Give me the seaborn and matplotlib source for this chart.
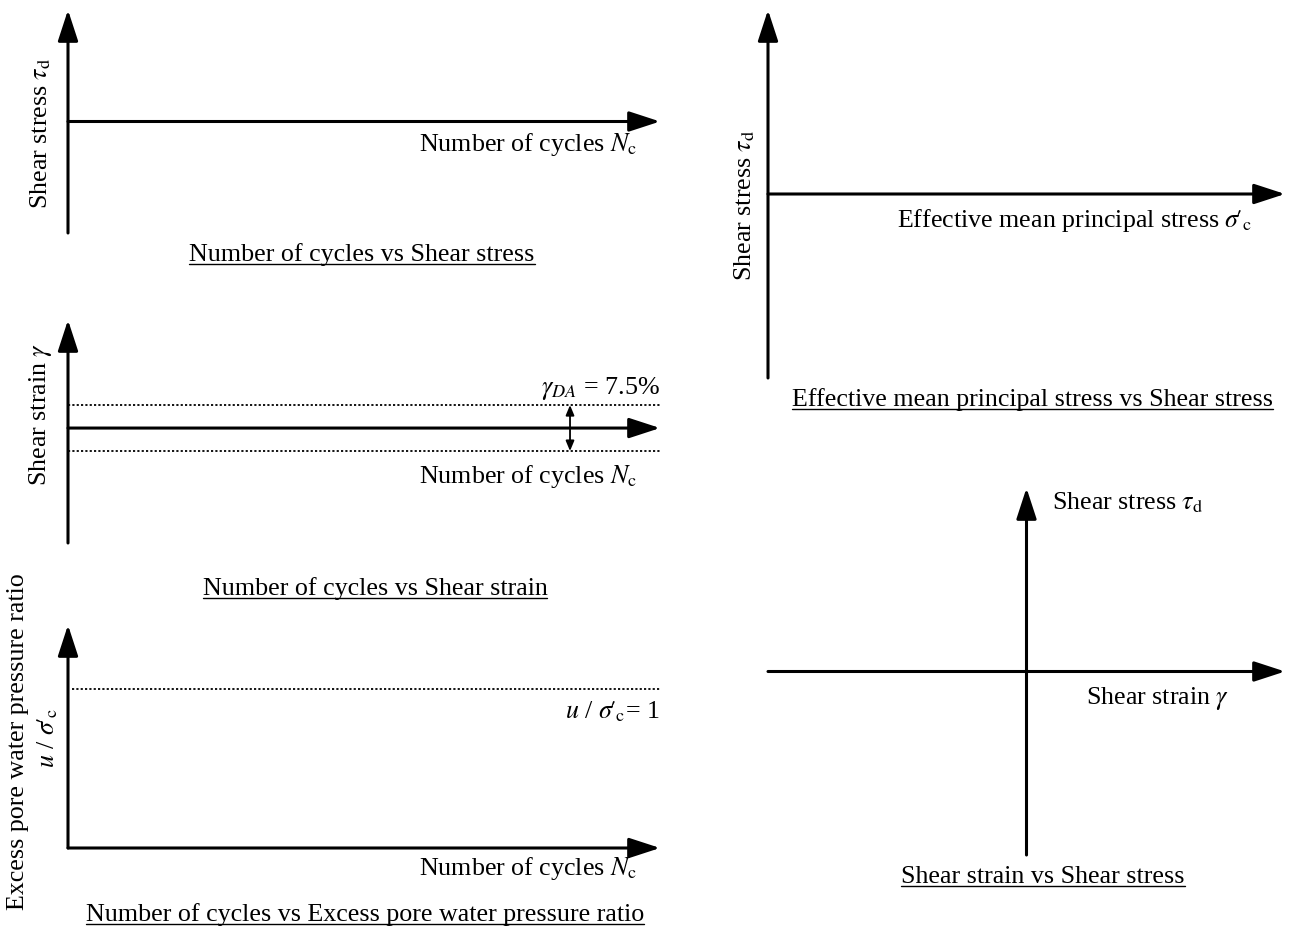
import numpy as np
import matplotlib.pyplot as plt
from matplotlib.lines import Line2D
import seaborn as sns

sns.set_theme(style="white")
plt.rcParams['font.family'] = ['Liberation Serif', 'DejaVu Serif']
plt.rcParams['mathtext.fontset'] = 'stix'
plt.rcParams['text.color'] = 'black'

# --- content of the schematic ---
panel_titles = [
    "Number of cycles vs Shear stress",
    "Number of cycles vs Shear strain",
    "Number of cycles vs Excess pore water pressure ratio",
    "Effective mean principal stress vs Shear stress",
    "Shear strain vs Shear stress",
]
x_labels = [
    r"Number of cycles $N_\mathrm{c}$",
    r"Number of cycles $N_\mathrm{c}$",
    r"Number of cycles $N_\mathrm{c}$",
    r"Effective mean principal stress $\sigma\!\prime_\mathrm{c}$",
    r"Shear strain $\gamma$",
]
y_labels = [
    r"Shear stress $\tau_\mathrm{d}$",
    r"Shear strain $\gamma$",
    "Excess pore water pressure ratio",
    r"Shear stress $\tau_\mathrm{d}$",
    r"Shear stress $\tau_\mathrm{d}$",
]
y_label_2nd = r"$u$ / $\sigma\!\prime_\mathrm{c}$"

# threshold levels
gamma_da_band = [-0.2, 0.2]          # double amplitude strain band (schematic)
gamma_da_text = r"$\gamma_{DA}$ = 7.5%"
ru_level = 1.0                        # u / sigma'c = 1
ru_text = r"$u$ / $\sigma\!\prime_\mathrm{c}$= 1"

# --- layout (pixels) ---
W, H = 1290, 927
fig = plt.figure(figsize=(W / 100, H / 100), dpi=100)


def fx(x):
    return x / W


def fy(y):
    return 1 - y / H


def make_ax(box, xlim, ylim):
    l, t, r, b = box
    ax = fig.add_axes([fx(l), fy(b), fx(r) - fx(l), fy(t) - fy(b)])
    ax.set_xlim(*xlim)
    ax.set_ylim(*ylim)
    ax.axis('off')
    return ax


def axis_arrow(ax, start, end):
    ax.annotate('', xy=end, xytext=start, xycoords='data',
                arrowprops=dict(arrowstyle='-|>,head_length=1.9,head_width=0.62',
                                mutation_scale=10, lw=2.2, color='black',
                                shrinkA=0, shrinkB=0),
                annotation_clip=False)


FS = 18.7
boxes = [(68, 10, 660, 233), (68, 320, 660, 543), (68, 625, 660, 848),
         (768, 10, 1285, 378), (768, 488, 1285, 855)]

# panel 1
ax1 = make_ax(boxes[0], (0, 1), (-1, 1))
axis_arrow(ax1, (0, -1), (0, 1))
axis_arrow(ax1, (0, 0), (1, 0))

# panel 2
ax2 = make_ax(boxes[1], (0, 1), (-1, 0.94))
axis_arrow(ax2, (0, -1), (0, 0.94))
axis_arrow(ax2, (0, 0), (1, 0))
ax2.hlines(gamma_da_band, 0, 1, colors='black', lw=1.3, linestyles=(0, (1.2, 1.2)))
ax2.annotate('', xy=(0.848, gamma_da_band[1]), xytext=(0.848, gamma_da_band[0]),
             arrowprops=dict(arrowstyle='<|-|>,head_length=0.6,head_width=0.25',
                             mutation_scale=10, lw=1.3, color='black',
                             shrinkA=0, shrinkB=0))

# panel 3
ax3 = make_ax(boxes[2], (0, 1), (0, 1.4))
axis_arrow(ax3, (0, 0), (0, 1.4))
axis_arrow(ax3, (0, 0), (1, 0))
ax3.hlines([ru_level], 0.007, 1, colors='black', lw=1.3, linestyles=(0, (1.2, 1.2)))

# panel 4
ax4 = make_ax(boxes[3], (0, 1), (-1, 1))
axis_arrow(ax4, (0, -1), (0, 1))
axis_arrow(ax4, (0, 0), (1, 0))

# panel 5
ax5 = make_ax(boxes[4], (-1, 1), (-1, 1))
axis_arrow(ax5, (0, -1), (0, 1))
axis_arrow(ax5, (-1, 0), (1, 0))

# --- texts ---
# x-axis labels (right edge, center y)
xl_pos = [(637, 145), (637, 476), (637, 868), (1252, 221), (1229, 698)]
for s, (x, y) in zip(x_labels, xl_pos):
    fig.text(fx(x), fy(y), s, ha='right', va='center', fontsize=FS)

# y-axis labels
yl_pos = [(41, 133), (41, 414), (18, 742), (745, 205)]
for s, (x, y) in zip(y_labels[:4], yl_pos):
    fig.text(fx(x), fy(y), s, ha='center', va='center', rotation=90, fontsize=FS)
fig.text(fx(48), fy(738), y_label_2nd, ha='center', va='center', rotation=90, fontsize=FS)
fig.text(fx(1052), fy(503), y_labels[4], ha='left', va='center', fontsize=FS)

# threshold annotations
fig.text(fx(660), fy(388), gamma_da_text, ha='right', va='center', fontsize=FS)
fig.text(fx(660), fy(712), ru_text, ha='right', va='center', fontsize=FS)

# underlined titles (center x, baseline y)
title_pos = [(362, 261), (375, 595), (365, 921), (1032, 406), (1043, 883)]
title_objs = []
for s, (x, y) in zip(panel_titles, title_pos):
    title_objs.append(fig.text(fx(x), fy(y), s, ha='center', va='baseline', fontsize=FS))

fig.canvas.draw()
renderer = fig.canvas.get_renderer()
for t, (x, y) in zip(title_objs, title_pos):
    bb = t.get_window_extent(renderer)
    uy = fy(y + 3)
    fig.add_artist(Line2D([bb.x0 / W, bb.x1 / W], [uy, uy], color='black', lw=1.0,
                          transform=fig.transFigure))

fig.savefig('out.png', dpi=100, facecolor='white')
